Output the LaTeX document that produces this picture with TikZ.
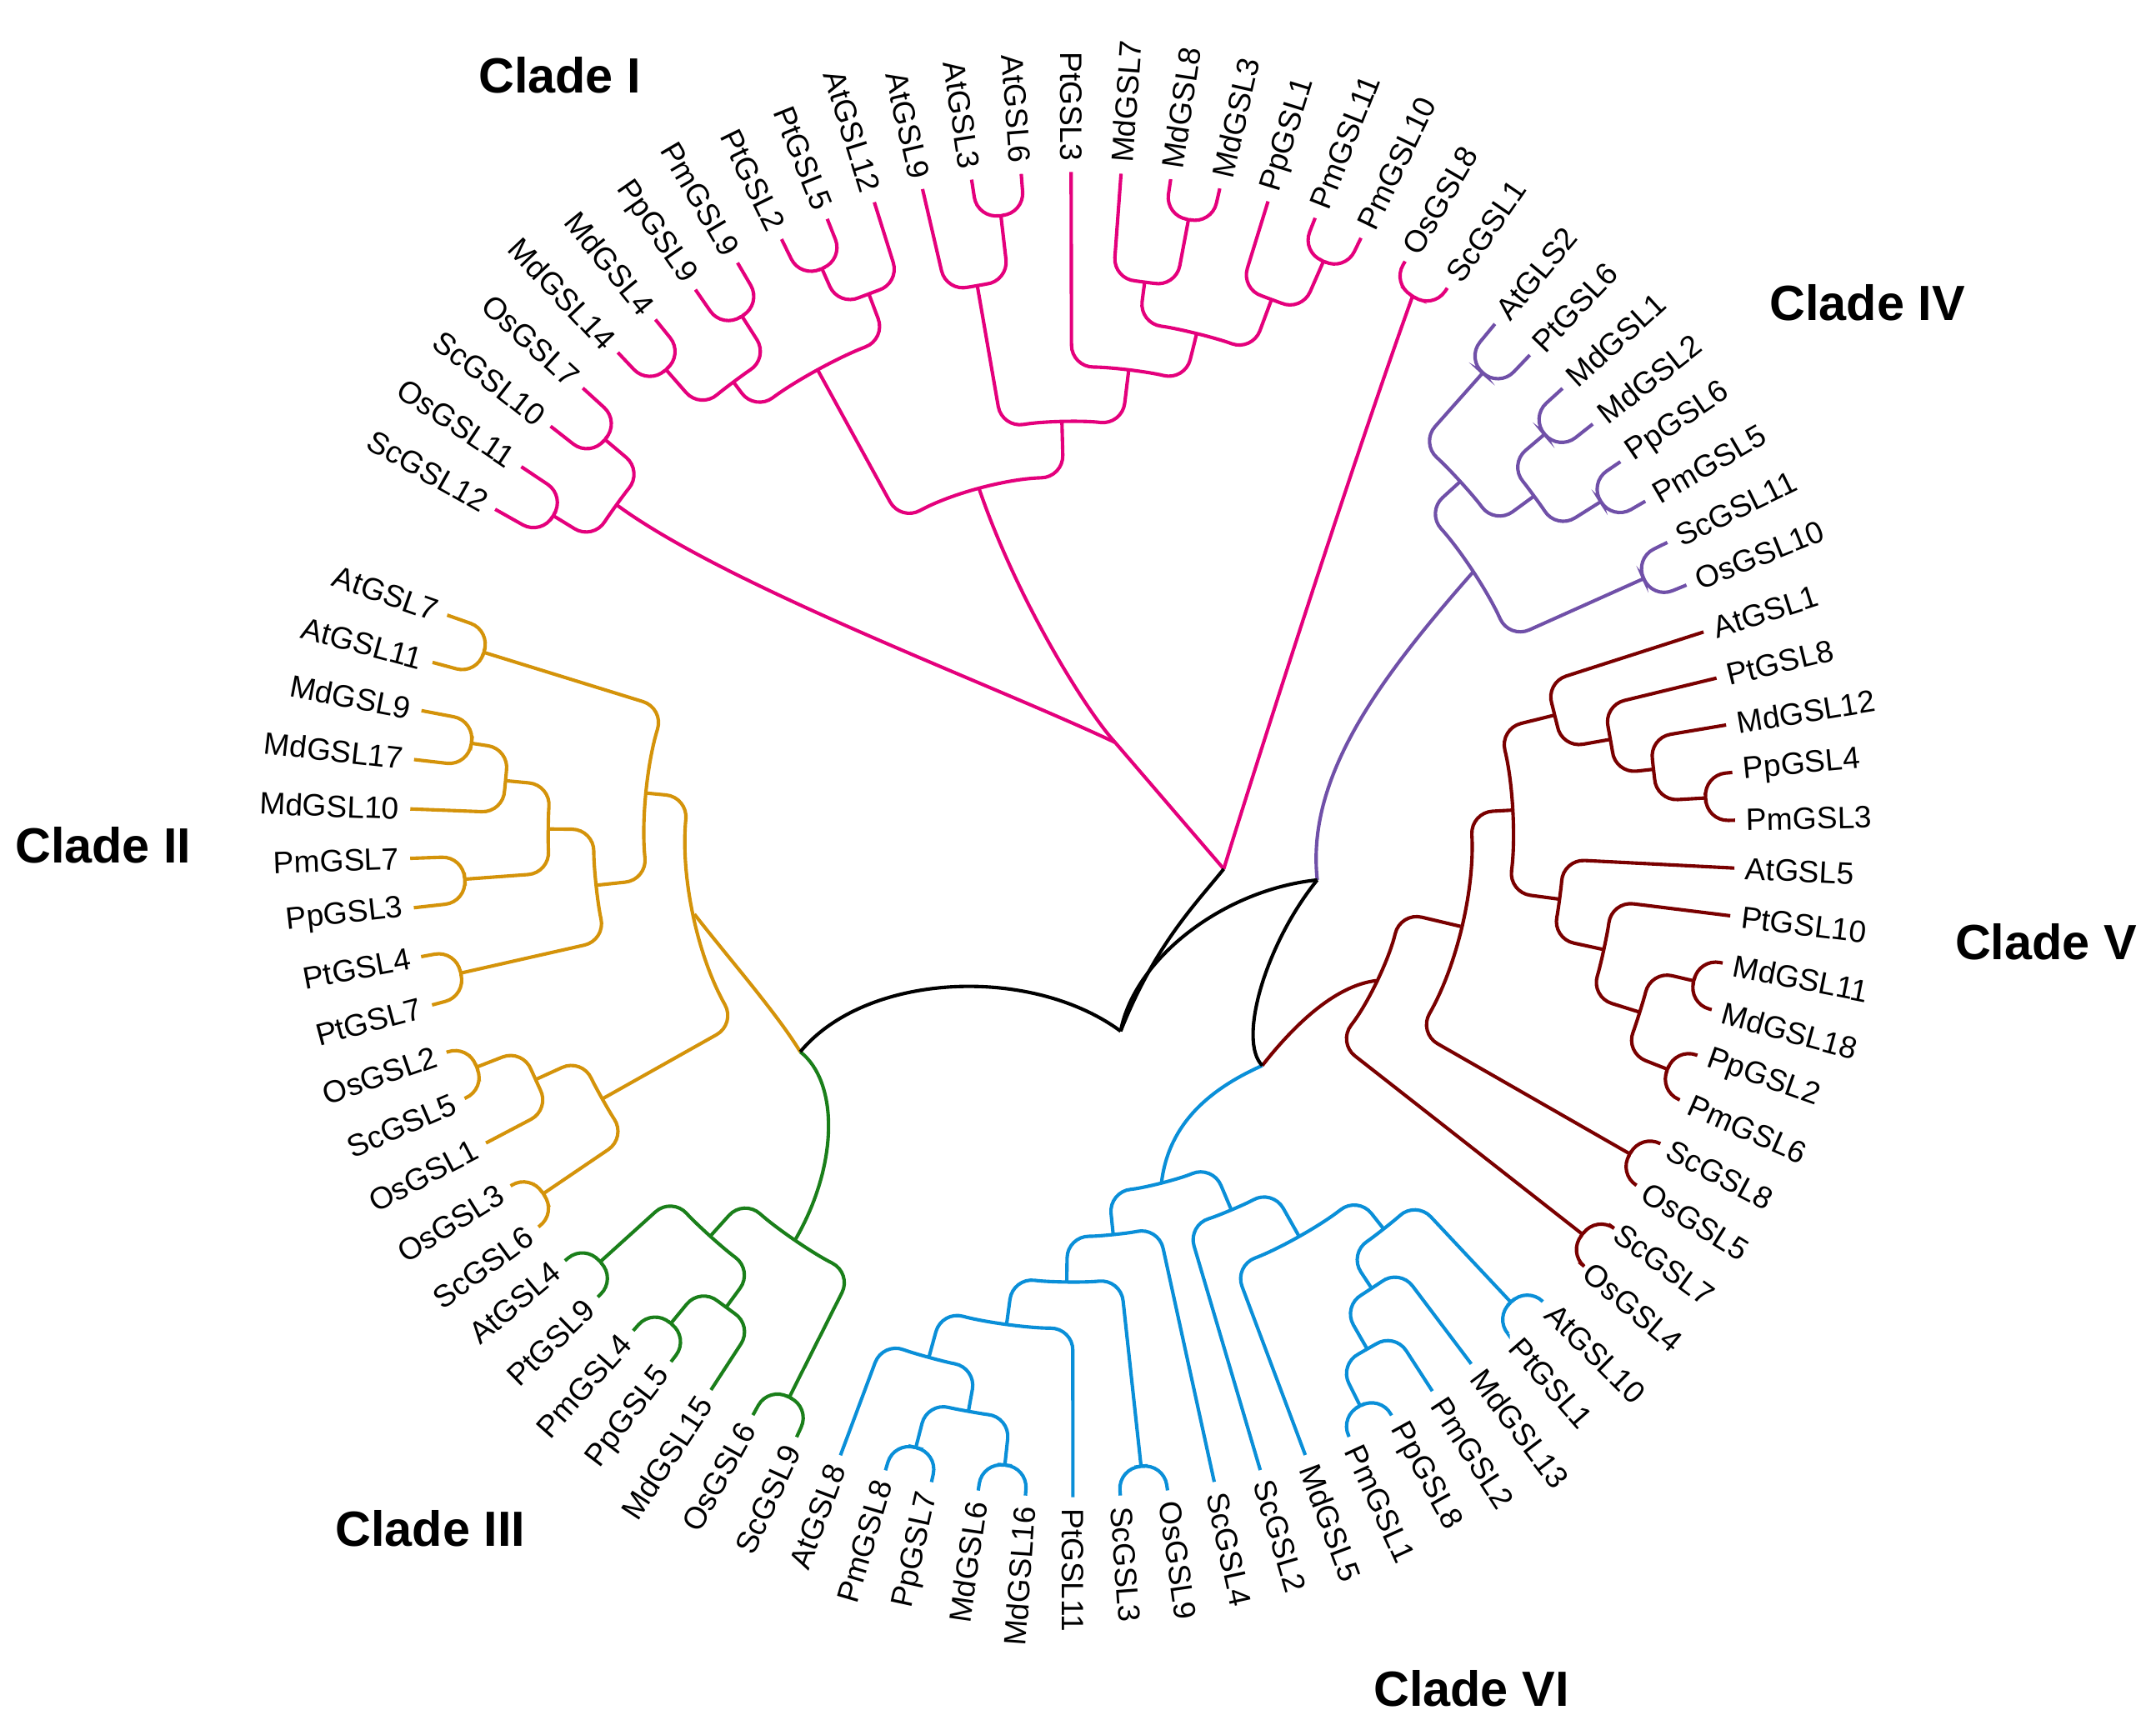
\documentclass[tikz,border=0pt]{standalone}
\usepackage{fontspec}
\setmainfont{Liberation Sans}
\definecolor{cI}{RGB}{228,0,124}
\definecolor{cII}{RGB}{212,147,10}
\definecolor{cIII}{RGB}{26,127,26}
\definecolor{cIV}{RGB}{112,80,168}
\definecolor{cV}{RGB}{122,0,0}
\definecolor{cVI}{RGB}{10,143,216}
\def\tipR{482}
\def\labR{490}
\newcommand\SetClade[2]{\xdef\curA{#1}\xdef\stpA{#2}}
\newcommand\Lf[1]{%
 \expandafter\xdef\csname A@#1\endcsname{\curA}%
 \coordinate (#1) at (\curA:\tipR pt);
 \pgfmathsetmacro\tmpC{cos(\curA)}%
 \ifdim\tmpC pt<0pt
   \pgfmathsetmacro\tmpR{\curA+180}%
   \node[lab,anchor=east,rotate=\tmpR] (t#1) at (\curA:\labR pt) {#1};
 \else
   \node[lab,anchor=west,rotate=\curA] (t#1) at (\curA:\labR pt) {#1};
 \fi
 \pgfmathsetmacro\tmpN{\curA+\stpA}\xdef\curA{\tmpN}%
}
\newcommand\Nd[5]{%
 \pgfmathsetmacro\tmpA{\csname A@#2\endcsname}%
 \pgfmathsetmacro\tmpB{\csname A@#3\endcsname}%
 \pgfmathsetmacro\tmpM{(\tmpA+\tmpB)/2}%
 \expandafter\xdef\csname A@#1\endcsname{\tmpM}%
 \coordinate (#1) at (\tmpM:#4pt);
 \draw[br,#5] (#2) -- (\tmpA:#4pt) arc[start angle=\tmpA, end angle=\tmpB, radius=#4pt] -- (#3);
}
\begin{document}
\begin{tikzpicture}[x=1pt,y=1pt,
  lab/.style={inner sep=0pt,font=\fontsize{22.5}{26}\selectfont},
  clade/.style={font=\fontsize{36}{40}\selectfont\bfseries},
  br/.style={line width=2.5pt,rounded corners=16pt},
  bb/.style={line width=2.5pt}]
\useasboundingbox (0,0) rectangle (1568,-1258);
\begin{scope}[shift={(780,-607)}]
% ---- leaves
\SetClade{150.6}{-4.32}
\Lf{ScGSL12}\Lf{OsGSL11}\Lf{ScGSL10}\Lf{OsGSL7}\Lf{MdGSL14}\Lf{MdGSL4}\Lf{PpGSL9}\Lf{PmGSL9}
\Lf{PtGSL2}\Lf{PtGSL5}\Lf{AtGSL12}\Lf{AtGSL9}\Lf{AtGSL3}\Lf{AtGSL6}\Lf{PtGSL3}\Lf{MdGSL7}
\Lf{MdGSL8}\Lf{MdGSL3}\Lf{PpGSL1}\Lf{PmGSL11}\Lf{PmGSL10}\Lf{OsGSL8}\Lf{ScGSL1}
\SetClade{50.4}{-4.04}
\Lf{AtGLS2}\Lf{PtGSL6}\Lf{MdGSL1}\Lf{MdGSL2}\Lf{PpGSL6}\Lf{PmGSL5}\Lf{ScGSL11}\Lf{OsGSL10}
\SetClade{17.8}{-4.14}
\Lf{AtGSL1}\Lf{PtGSL8}\Lf{MdGSL12}\Lf{PpGSL4}\Lf{PmGSL3}\Lf{AtGSL5}\Lf{PtGSL10}\Lf{MdGSL11}
\Lf{MdGSL18}\Lf{PpGSL2}\Lf{PmGSL6}\Lf{ScGSL8}\Lf{OsGSL5}\Lf{ScGSL7}\Lf{OsGSL4}
\SetClade{-44.8}{-4.106}
\Lf{AtGSL10}\Lf{PtGSL1}\Lf{MdGSL13}\Lf{PmGSL2}\Lf{PpGSL8}\Lf{PmGSL1}\Lf{MdGSL5}\Lf{ScGSL2}
\Lf{ScGSL4}\Lf{OsGSL9}\Lf{ScGSL3}\Lf{PtGSL11}\Lf{MdGSL16}\Lf{MdGSL6}\Lf{PpGSL7}\Lf{PmGSL8}\Lf{AtGSL8}
\SetClade{-114.6}{-4.23}
\Lf{ScGSL9}\Lf{OsGSL6}\Lf{MdGSL15}\Lf{PpGSL5}\Lf{PmGSL4}\Lf{PtGSL9}\Lf{AtGSL4}
\SetClade{-143.7}{-4.28}
\Lf{ScGSL6}\Lf{OsGSL3}\Lf{OsGSL1}\Lf{ScGSL5}\Lf{OsGSL2}\Lf{PtGSL7}\Lf{PtGSL4}\Lf{PpGSL3}
\Lf{PmGSL7}\Lf{MdGSL10}\Lf{MdGSL17}\Lf{MdGSL9}\Lf{AtGSL11}\Lf{AtGSL7}
% ---- Clade I
\Nd{n1}{ScGSL12}{OsGSL11}{443}{cI}
\Nd{n2}{ScGSL10}{OsGSL7}{445}{cI}
\Nd{nA}{n1}{n2}{409}{cI}
\Nd{n3}{MdGSL14}{MdGSL4}{449}{cI}
\Nd{n4}{PpGSL9}{PmGSL9}{447}{cI}
\Nd{n5}{n3}{n4}{411}{cI}
\Nd{n6}{PtGSL2}{PtGSL5}{450}{cI}
\Nd{n7}{n6}{AtGSL12}{420}{cI}
\Nd{n8}{n5}{n7}{385}{cI}
\Nd{n9}{AtGSL3}{AtGSL6}{453}{cI}
\Nd{n10}{AtGSL9}{n9}{405}{cI}
\Nd{n11}{MdGSL8}{MdGSL3}{455}{cI}
\Nd{n12}{MdGSL7}{n11}{405}{cI}
\Nd{n13}{PmGSL11}{PmGSL10}{455}{cI}
\Nd{n14}{PpGSL1}{n13}{415}{cI}
\Nd{n15}{n12}{n14}{375}{cI}
\Nd{n16}{PtGSL3}{n15}{340}{cI}
\Nd{n17}{n10}{n16}{300}{cI}
\Nd{nB}{n8}{n17}{260}{cI}
\Nd{n18}{OsGSL8}{ScGSL1}{463}{cI}
\coordinate (nAB) at (31,67);
\coordinate (Iroot) at (110,-25);
\draw[bb,cI] (nA) .. controls (-250,180) and (-60,110) .. (nAB);
\draw[bb,cI] (nB) .. controls (-40,170) and (10,90) .. (nAB);
\draw[bb,cI] (nAB) -- (Iroot);
\draw[bb,cI] (n18) .. controls (200,260) and (130,40) .. (Iroot);
% ---- Clade IV
\Nd{m1}{AtGLS2}{PtGSL6}{449}{cIV}
\Nd{m2}{MdGSL1}{MdGSL2}{450}{cIV}
\Nd{m3}{PpGSL6}{PmGSL5}{454}{cIV}
\Nd{m4}{m2}{m3}{416}{cIV}
\Nd{m5}{m1}{m4}{381}{cIV}
\Nd{m6}{ScGSL11}{OsGSL10}{455}{cIV}
\Nd{IVroot}{m5}{m6}{348}{cIV}
% ---- Clade V
\Nd{v1}{PpGSL4}{PmGSL3}{461}{cV}
\Nd{v2}{MdGSL12}{v1}{425}{cV}
\Nd{v3}{PtGSL8}{v2}{397}{cV}
\Nd{v4}{AtGSL1}{v3}{361}{cV}
\Nd{v5}{MdGSL11}{MdGSL18}{464}{cV}
\Nd{v6}{PpGSL2}{PmGSL6}{465}{cV}
\Nd{v7}{v5}{v6}{432}{cV}
\Nd{v8}{PtGSL10}{v7}{395}{cV}
\Nd{v9}{AtGSL5}{v8}{357}{cV}
\Nd{v10}{v4}{v9}{320}{cV}
\Nd{v11}{ScGSL8}{OsGSL5}{467}{cV}
\Nd{v12}{v10}{v11}{290}{cV}
\Nd{v13}{ScGSL7}{OsGSL4}{471}{cV}
\Nd{Vroot}{v12}{v13}{245}{cV}
% ---- Clade VI
\Nd{w1}{PmGSL8}{PpGSL7}{460}{cVI}
\Nd{w2}{MdGSL6}{MdGSL16}{461}{cVI}
\Nd{w3}{w1}{w2}{426}{cVI}
\Nd{w4}{AtGSL8}{w3}{394}{cVI}
\Nd{w5}{w4}{PtGSL11}{359}{cVI}
\Nd{w6}{ScGSL3}{OsGSL9}{462}{cVI}
\Nd{w7}{w5}{w6}{325}{cVI}
\Nd{w8}{w7}{ScGSL4}{292}{cVI}
\Nd{w9}{PmGSL1}{PpGSL8}{465}{cVI}
\Nd{w10}{w9}{PmGSL2}{431}{cVI}
\Nd{w11}{w10}{MdGSL13}{395}{cVI}
\Nd{w12}{PtGSL1}{AtGSL10}{466}{cVI}
\Nd{w13}{w11}{w12}{365}{cVI}
\Nd{w14}{MdGSL5}{w13}{335}{cVI}
\Nd{w15}{ScGSL2}{w14}{296}{cVI}
\Nd{VIroot}{w8}{w15}{261}{cVI}
% ---- Clade III
\Nd{g1}{AtGSL4}{PtGSL9}{463}{cIII}
\Nd{g2}{PmGSL4}{PpGSL5}{460}{cIII}
\Nd{g3}{g2}{MdGSL15}{426}{cIII}
\Nd{g4}{g1}{g3}{393}{cIII}
\Nd{g5}{OsGSL6}{ScGSL9}{458}{cIII}
\Nd{IIIroot}{g4}{g5}{357}{cIII}
% ---- Clade II
\Nd{h1}{OsGSL2}{ScGSL5}{465}{cII}
\Nd{h2}{h1}{OsGSL1}{429}{cII}
\Nd{h3}{OsGSL3}{ScGSL6}{465}{cII}
\Nd{h4}{h2}{h3}{392}{cII}
\Nd{u1}{AtGSL7}{AtGSL11}{448}{cII}
\Nd{u2}{MdGSL9}{MdGSL17}{442}{cII}
\Nd{u3}{u2}{MdGSL10}{414}{cII}
\Nd{u4}{PmGSL7}{PpGSL3}{443}{cII}
\Nd{u5}{u3}{u4}{381}{cII}
\Nd{u6}{PtGSL4}{PtGSL7}{456}{cII}
\Nd{u7}{u5}{u6}{348}{cII}
\Nd{u8}{u1}{u7}{311}{cII}
\Nd{IIroot}{u8}{h4}{281}{cII}
% ---- backbone
\coordinate (R) at (35,-143);
\coordinate (J1) at (178,-33);
\coordinate (J2) at (138,-168);
\coordinate (J3) at (-198,-158);
\draw[bb,cIV] (IVroot) .. controls (220,110) and (170,40) .. (J1);
\draw[bb,cV] (Vroot) .. controls (190,-110) and (160,-140) .. (J2);
\draw[bb,cVI] (VIroot) .. controls (70,-210) and (100,-185) .. (J2);
\draw[bb,cII] (IIroot) .. controls (-250,-90) and (-215,-130) .. (J3);
\draw[bb,cIII] (IIIroot) .. controls (-170,-240) and (-170,-180) .. (J3);
\draw[bb,black] (J3) .. controls (-150,-100) and (-30,-95) .. (R);
\draw[bb,black] (R) .. controls (60,-80) and (90,-50) .. (Iroot);
\draw[bb,black] (R) .. controls (45,-90) and (110,-40) .. (J1);
\draw[bb,black] (J1) .. controls (140,-80) and (120,-150) .. (J2);
\end{scope}
% ---- clade labels
\node[clade] (LI) at (407,-55) {Clade I};
\node[clade] (LIV) at (1358,-220) {Clade IV};
\node[clade] (LV) at (1488,-685) {Clade V};
\node[clade] (LVI) at (1070,-1228) {Clade VI};
\node[clade] (LIII) at (313,-1112) {Clade III};
\node[clade] (LII) at (75,-615) {Clade II};
\end{tikzpicture}
\end{document}
